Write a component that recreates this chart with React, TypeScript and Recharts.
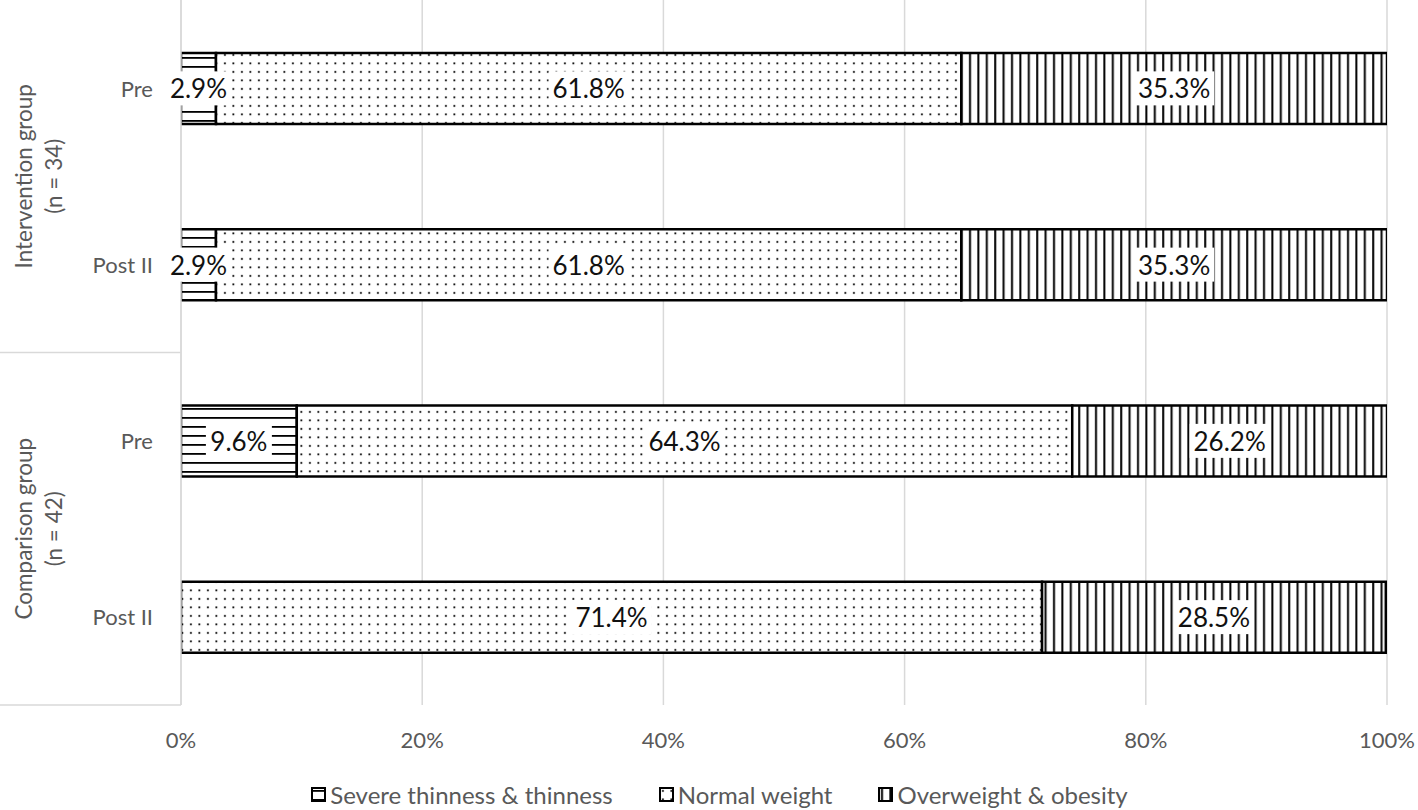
import React from 'react';
import { BarChart, Bar, XAxis, YAxis, CartesianGrid, Legend, LabelList } from 'recharts';

const categories = ['Pre', 'Post II', 'Pre', 'Post II'];
const groups = ['Intervention group|(n = 34)', 'Intervention group|(n = 34)', 'Comparison group|(n = 42)', 'Comparison group|(n = 42)'];
const thinness = [2.9, 2.9, 9.6, 0];
const normalWeight = [61.8, 61.8, 64.3, 71.4];
const overweight = [35.3, 35.3, 26.2, 28.5];
const xTicks = [0, 20, 40, 60, 80, 100];

const seriesInfo = [
    { key: 'thin', name: 'Severe thinness & thinness', pattern: 'url(#pat-horiz)' },
    { key: 'normal', name: 'Normal weight', pattern: 'url(#pat-dots)' },
    { key: 'over', name: 'Overweight & obesity', pattern: 'url(#pat-vert)' },
];

const data = categories.map((c, i) => ({
    label: c,
    group: groups[i],
    thin: thinness[i],
    normal: normalWeight[i],
    over: overweight[i],
}));

const W = 1418;
const H = 810;
const PLOT_BOTTOM = 705;
const AXIS_X = 181;
const GREY = '#595959';
const FONT = 'Lato, "Open Sans", sans-serif';

const Patterns = () => (
    <svg width={0} height={0} style={{ position: 'absolute' }}>
        <defs>
            <pattern id="pat-horiz" patternUnits="userSpaceOnUse" width={10} height={9}>
                <rect width={10} height={9} fill="#fff" />
                <rect x={0} y={3} width={10} height={1.8} fill="#000" />
            </pattern>
            <pattern id="pat-vert" patternUnits="userSpaceOnUse" width={8.4} height={10}>
                <rect width={8.4} height={10} fill="#fff" />
                <rect x={3} y={0} width={2} height={10} fill="#000" />
            </pattern>
            <pattern id="pat-dots" patternUnits="userSpaceOnUse" width={8.5} height={8.5}>
                <rect width={8.5} height={8.5} fill="#fff" />
                <rect x={3} y={3} width={1.8} height={1.8} fill="#000" />
            </pattern>
        </defs>
    </svg>
);

const BoxLabel = (props: any) => {
    const { x, y, width, height, value } = props;
    if (!value) return null;
    const cx = x + width / 2;
    const cy = y + height / 2;
    const text = `${Number(value).toFixed(1)}%`;
    const w = text.length * 14 + 10;
    return (
        <g>
            <rect x={cx - w / 2} y={cy - 17} width={w} height={34} fill="#fff" />
            <text x={cx} y={cy} textAnchor="middle" dominantBaseline="central" fontSize={26} fill="#111" fontFamily={FONT}>
                {text}
            </text>
        </g>
    );
};

const CategoryTick = (props: any) => {
    const { y, payload } = props;
    return (
        <text x={AXIS_X - 28} y={y} textAnchor="end" dominantBaseline="central" fontSize={22} fill={GREY} fontFamily={FONT}>
            {payload.value}
        </text>
    );
};

const GroupTick = (props: any) => {
    const { y, payload } = props;
    const [line1, line2] = String(payload.value).split('|');
    const cx = 40;
    const half = PLOT_BOTTOM / 4;
    return (
        <g>
            <text transform={`rotate(-90, ${cx}, ${y})`} x={cx} y={y} textAnchor="middle" fontSize={22.5} fill={GREY} fontFamily={FONT}>
                <tspan x={cx} dy={-8}>{line1}</tspan>
                <tspan x={cx} dy={30}>{line2}</tspan>
            </text>
            <line x1={0} x2={AXIS_X} y1={y + half} y2={y + half} stroke="#d9d9d9" strokeWidth={1.5} />
        </g>
    );
};

const LegendContent = () => (
    <div style={{ display: 'flex', justifyContent: 'center', alignItems: 'center', gap: 46, height: 55, paddingTop: 24, paddingLeft: 52, boxSizing: 'border-box', fontFamily: FONT, fontSize: 24, color: GREY }}>
        {seriesInfo.map((s) => (
            <div key={s.key} style={{ display: 'flex', alignItems: 'center', gap: 4 }}>
                <svg width={15} height={15}>
                    <rect x={1} y={1} width={13} height={13} fill={s.pattern} stroke="#000" strokeWidth={2} />
                </svg>
                <span>{s.name}</span>
            </div>
        ))}
    </div>
);

export default function App() {
    return (
        <div style={{ position: 'absolute', left: 0, top: 0, width: W, height: H, background: '#fff', fontFamily: FONT }}>
            <Patterns />
            <BarChart
                width={W}
                height={H}
                data={data}
                layout="vertical"
                barCategoryGap="30%"
                margin={{ top: 0, right: 31, left: 0, bottom: 0 }}
            >
                <CartesianGrid horizontal={false} stroke="#d9d9d9" strokeWidth={1.5} />
                <XAxis
                    type="number"
                    domain={[0, 100]}
                    allowDataOverflow
                    ticks={xTicks}
                    tickFormatter={(v: number) => `${v}%`}
                    axisLine={false}
                    tickLine={false}
                    tickMargin={21}
                    height={50}
                    tick={{ fill: GREY, fontSize: 22, fontFamily: FONT }}
                />
                <YAxis
                    yAxisId="cat"
                    type="category"
                    dataKey="label"
                    width={101}
                    axisLine={{ stroke: '#d9d9d9', strokeWidth: 1.5 }}
                    tickLine={false}
                    tick={<CategoryTick />}
                />
                <YAxis
                    yAxisId="group"
                    type="category"
                    dataKey="group"
                    allowDuplicatedCategory={false}
                    width={80}
                    axisLine={false}
                    tickLine={false}
                    tick={<GroupTick />}
                />
                <Legend verticalAlign="bottom" height={55} content={<LegendContent />} />
                {seriesInfo.map((s) => (
                    <Bar
                        key={s.key}
                        dataKey={s.key}
                        name={s.name}
                        yAxisId="cat"
                        stackId="a"
                        fill={s.pattern}
                        stroke="#000"
                        strokeWidth={2.5}
                        isAnimationActive={false}
                    >
                        <LabelList dataKey={s.key} content={<BoxLabel />} />
                    </Bar>
                ))}
            </BarChart>
        </div>
    );
}
